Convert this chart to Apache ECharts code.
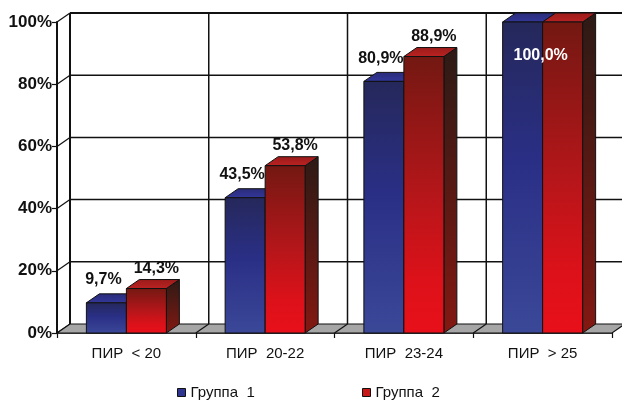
<!DOCTYPE html>
<html>
<head>
<meta charset="utf-8">
<script src="https://cdn.jsdelivr.net/npm/echarts@6/dist/echarts.min.js"></script>
<style>
  html, body { margin: 0; padding: 0; background: #ffffff; }
  #chart { width: 622px; height: 401px; }
</style>
</head>
<body>
<div id="chart"></div>
<script>
// Categories, series and axis ticks
const categories = ['ПИР  < 20', 'ПИР  20-22', 'ПИР  23-24', 'ПИР  > 25'];
const seriesNames = ['Группа  1', 'Группа  2'];
const group1 = [9.7, 43.5, 80.9, 100.0];
const group2 = [14.3, 53.8, 88.9, 100.0];
const yTicks = [0, 20, 40, 60, 80, 100];

// Pseudo-3D box geometry and styling
const DX = 13, DY = -9;
const BAR_W = 40;
const FONT = '"Liberation Sans", Arial, sans-serif';
const INK = '#111111';

const palettes = [
  {
    front: [[0, '#25285a'], [0.45, '#2a2f86'], [1, '#3b4898']],
    top: [[0, '#2a2b78'], [1, '#33379a']],
    side: [[0, '#16183a'], [1, '#22265a']],
    legend: '#2e3590',
    labelDx: -3, labelDy: -23
  },
  {
    front: [[0, '#731812'], [0.5, '#b5161a'], [0.8, '#dc1119'], [1, '#e8101a']],
    top: [[0, '#9a1c1a'], [1, '#bb2222']],
    side: [[0, '#2d1a15'], [1, '#841812']],
    legend: '#c81818',
    labelDx: 10, labelDy: -20
  }
];

const yMax = yTicks[yTicks.length - 1];

function fmt(v) {
  return v.toFixed(1).replace('.', ',') + '%';
}

function grad(stops) {
  return new echarts.graphic.LinearGradient(0, 0, 0, 1,
    stops.map(s => ({ offset: s[0], color: s[1] })));
}

function seg(x1, y1, x2, y2, w) {
  return { type: 'line', shape: { x1, y1, x2, y2 }, style: { stroke: INK, lineWidth: w } };
}

// Back wall, left wall and floor of the box
function renderFrame(params, api) {
  const cs = params.coordSys;
  const left = cs.x, right = cs.x + cs.width;
  const y0 = api.coord([0, 0])[1];
  const yTop = api.coord([0, yMax])[1];
  const band = api.size([1, 0])[0];
  const children = [];

  yTicks.forEach(v => {
    const y = api.coord([0, v])[1];
    if (v > 0) {
      children.push(seg(left + DX, y + DY, right + DX + 20, y + DY, v === yMax ? 2 : 1.5));
    }
    children.push(seg(left, y, left + DX, y + DY, 1.2));
  });
  for (let i = 1; i < categories.length; i++) {
    const x = left + band * i + DX;
    children.push(seg(x, y0 + DY, x, yTop + DY, 1.5));
  }
  children.push(seg(left + DX, y0 + DY, left + DX, yTop + DY, 2));

  children.push({
    type: 'polygon',
    shape: { points: [[left, y0], [right, y0], [right + DX, y0 + DY], [left + DX, y0 + DY]] },
    style: { fill: '#a6a6a6', stroke: INK, lineWidth: 1.2 }
  });
  for (let i = 1; i < categories.length; i++) {
    const x = left + band * i;
    children.push(seg(x, y0, x + DX, y0 + DY, 1.2));
  }
  return { type: 'group', children };
}

// One box-shaped bar per item; side 0 sits left of the category centre, side 1 right
function makeBarRenderer(side) {
  const pal = palettes[side];
  return function (params, api) {
    const i = api.value(0);
    const v = api.value(1);
    const base = api.coord([i, 0]);
    const top = api.coord([i, v]);
    const x0 = side === 0 ? base[0] - BAR_W : base[0];
    const x1 = x0 + BAR_W;
    const yb = base[1], yt = top[1];
    const children = [
      {
        type: 'polygon',
        shape: { points: [[x1, yb], [x1 + DX, yb + DY], [x1 + DX, yt + DY], [x1, yt]] },
        style: { fill: grad(pal.side), stroke: INK, lineWidth: 1 }
      },
      {
        type: 'polygon',
        shape: { points: [[x0, yt], [x1, yt], [x1 + DX, yt + DY], [x0 + DX, yt + DY]] },
        style: { fill: grad(pal.top), stroke: INK, lineWidth: 1 }
      },
      {
        type: 'rect',
        shape: { x: x0, y: yt, width: BAR_W, height: yb - yt },
        style: { fill: grad(pal.front), stroke: INK, lineWidth: 1 }
      }
    ];

    // When both bars of a category reach the axis top, one shared label sits across them,
    // drawn by the front-most (right) series so it stays on top
    const shared = group1[i] === group2[i] && v >= yMax;
    if (shared) {
      if (side === 1) {
        children.push({
          type: 'text', x: base[0] - 2, y: yt + 34,
          style: { text: fmt(v), fill: '#ffffff', font: 'bold 16px ' + FONT, align: 'center', verticalAlign: 'middle' }
        });
      }
    } else {
      children.push({
        type: 'text', x: (x0 + x1) / 2 + pal.labelDx, y: yt + pal.labelDy,
        style: { text: fmt(v), fill: INK, font: 'bold 16px ' + FONT, align: 'center', verticalAlign: 'middle' }
      });
    }
    return { type: 'group', children };
  };
}

const chart = echarts.init(document.getElementById('chart'));

const legendBase = {
  icon: 'rect',
  itemWidth: 8,
  itemHeight: 8,
  top: 385,
  padding: 0,
  itemStyle: { borderColor: INK, borderWidth: 1 },
  textStyle: { color: INK, fontSize: 15, fontFamily: FONT }
};

chart.setOption({
  animation: false,
  backgroundColor: '#ffffff',
  grid: { left: 57, right: 10, top: 22, bottom: 68 },
  legend: [
    Object.assign({ data: [seriesNames[0]], left: 177 }, legendBase),
    Object.assign({ data: [seriesNames[1]], left: 362 }, legendBase)
  ],
  xAxis: {
    type: 'category',
    data: categories,
    axisLine: { lineStyle: { color: INK, width: 1.5 } },
    axisTick: { show: true, length: 5, lineStyle: { color: INK, width: 1.2 } },
    axisLabel: { color: INK, fontSize: 15, fontFamily: FONT, margin: 13 },
    splitLine: { show: false }
  },
  yAxis: {
    type: 'value',
    min: 0,
    max: yMax,
    interval: 20,
    axisLine: { show: true, lineStyle: { color: INK, width: 2 } },
    axisTick: { show: true, length: 5, lineStyle: { color: INK, width: 1.2 } },
    axisLabel: { formatter: '{value}%', color: INK, fontSize: 17, fontWeight: 'bold', fontFamily: FONT, margin: 5 },
    splitLine: { show: false }
  },
  series: [
    {
      type: 'custom',
      name: 'frame',
      z: 1,
      silent: true,
      renderItem: renderFrame,
      data: [[0, 0]]
    },
    {
      type: 'custom',
      name: seriesNames[0],
      z: 2,
      itemStyle: { color: palettes[0].legend },
      renderItem: makeBarRenderer(0),
      encode: { x: 0, y: 1 },
      data: group1.map((v, i) => [i, v])
    },
    {
      type: 'custom',
      name: seriesNames[1],
      z: 3,
      itemStyle: { color: palettes[1].legend },
      renderItem: makeBarRenderer(1),
      encode: { x: 0, y: 1 },
      data: group2.map((v, i) => [i, v])
    }
  ]
});
</script>
</body>
</html>
